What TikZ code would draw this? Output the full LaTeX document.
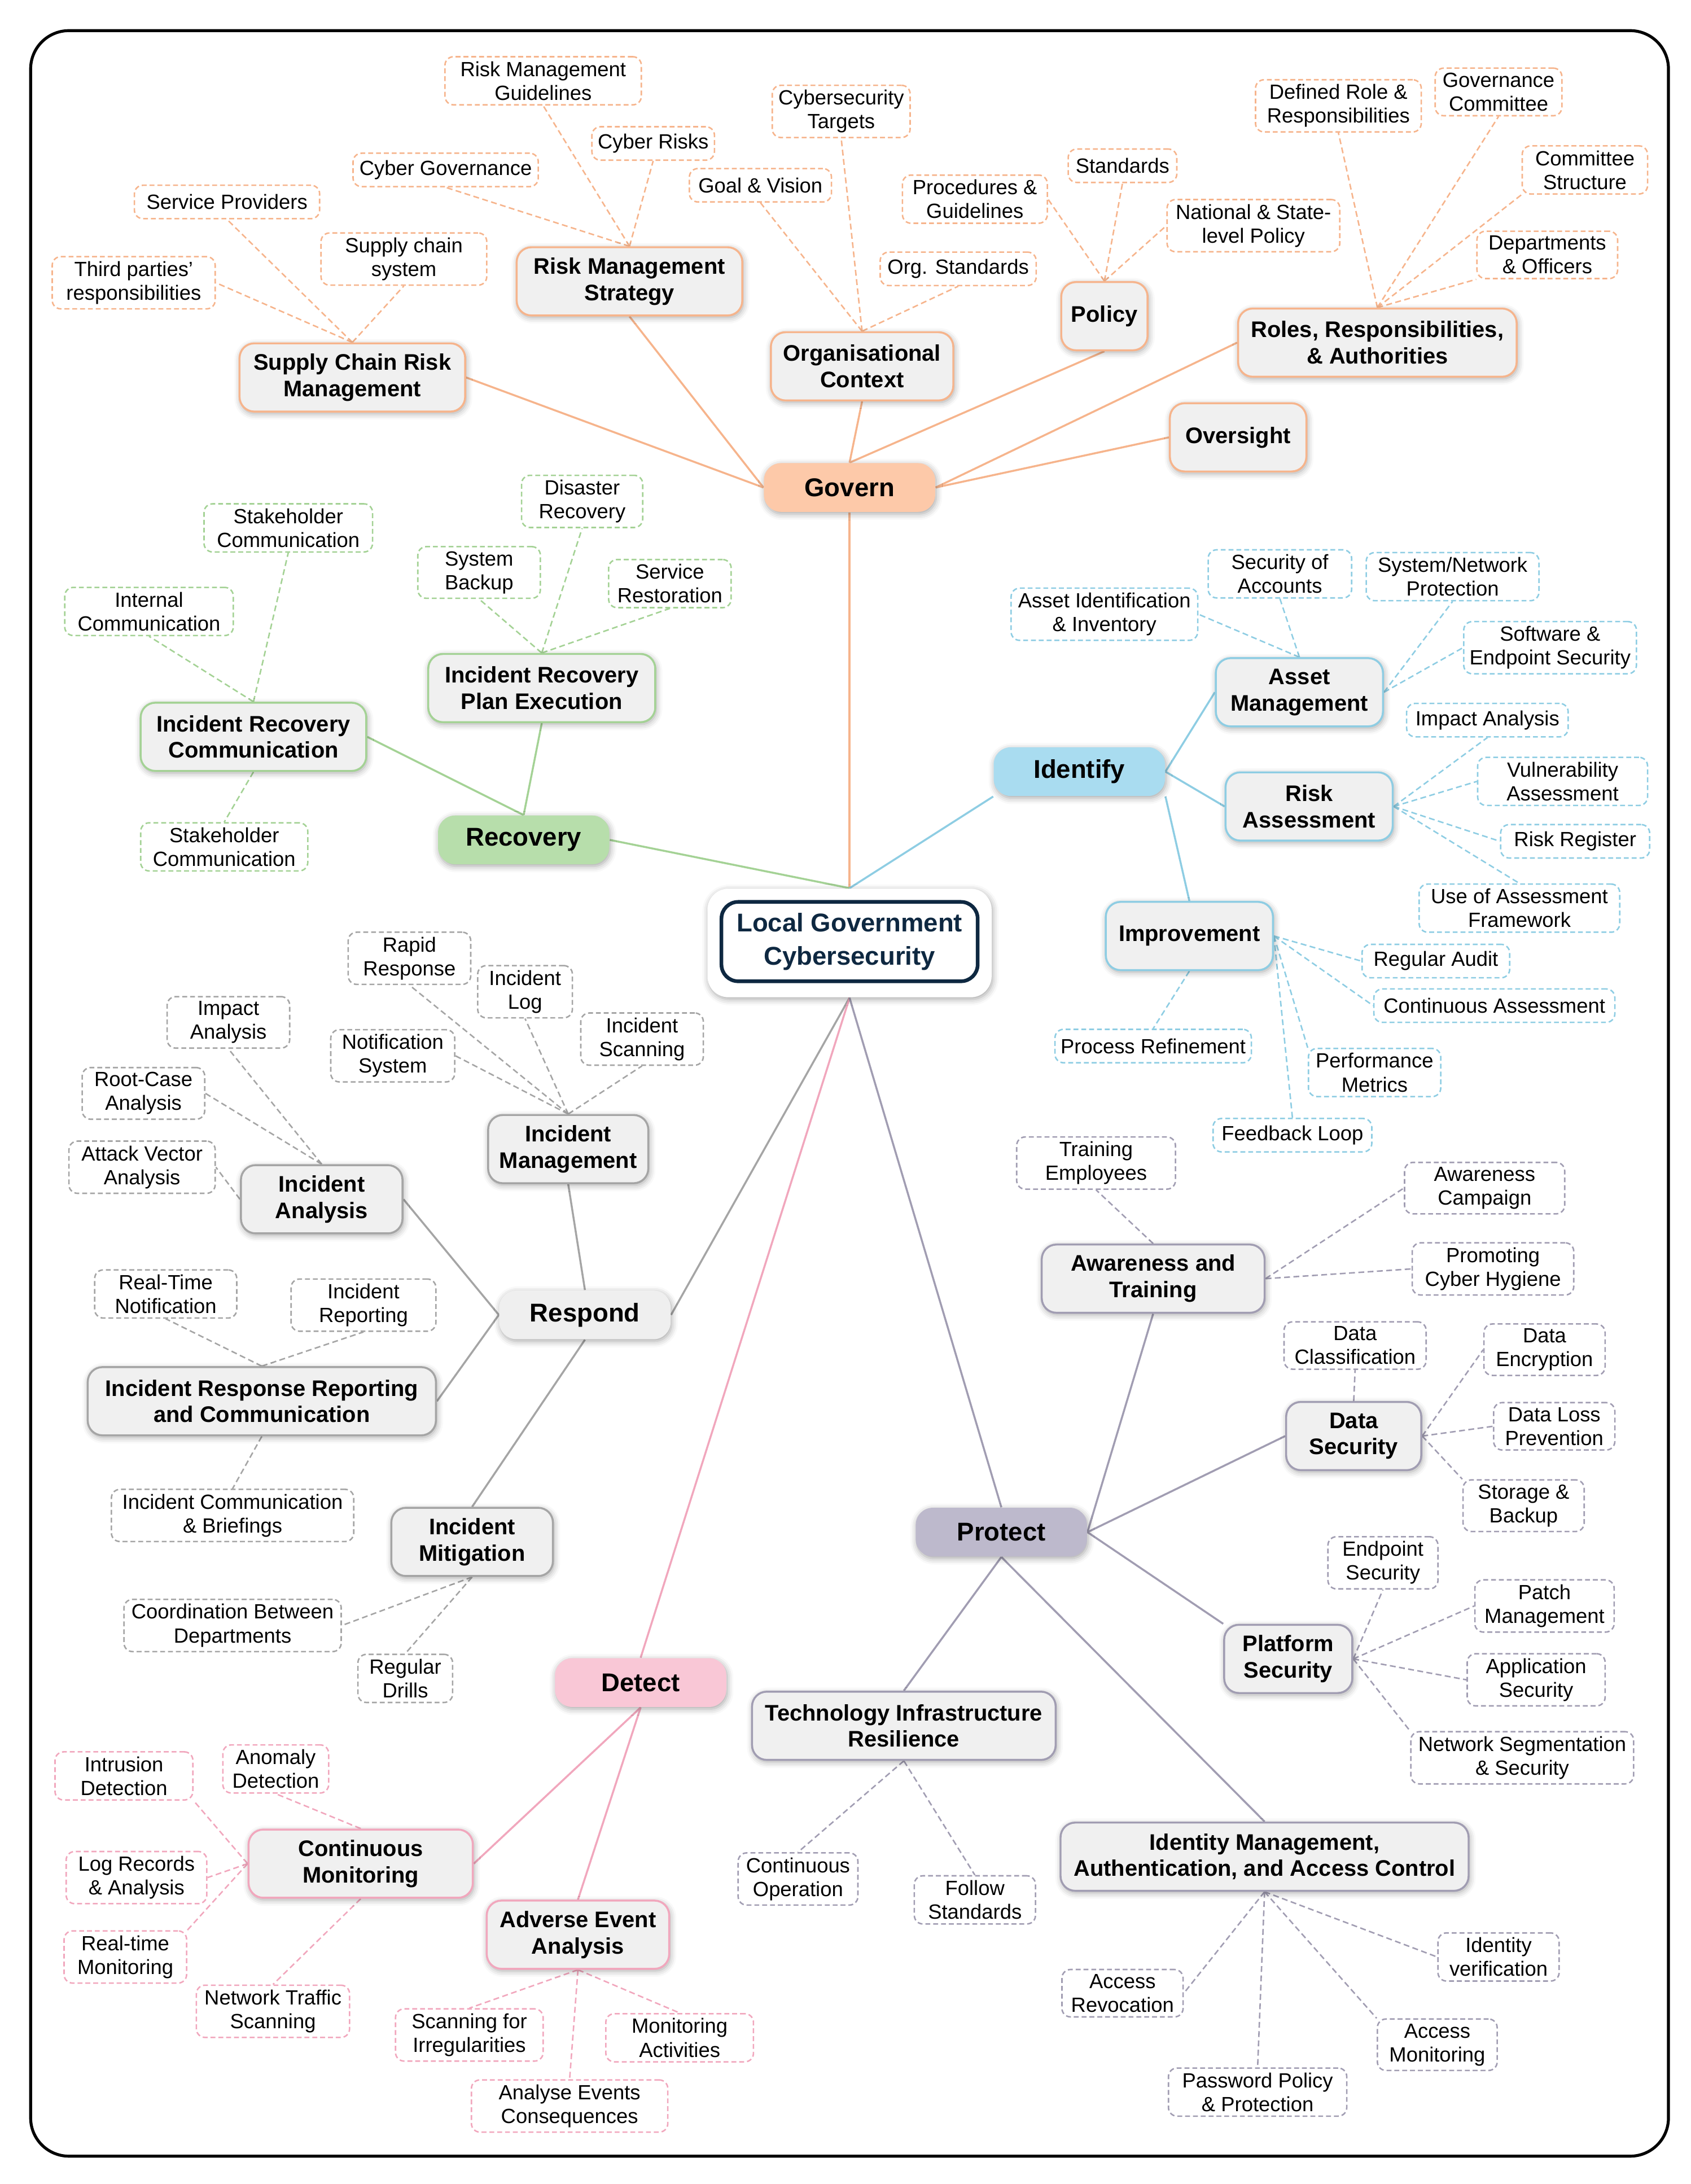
\documentclass[tikz,border=0pt]{standalone}
\usepackage{fontspec}
\setmainfont{Liberation Sans}
\usetikzlibrary{shadows.blur,backgrounds}

\definecolor{govline}{HTML}{F6B48C}
\definecolor{govfill}{HTML}{FDC9A9}
\definecolor{idline}{HTML}{8ECDE3}
\definecolor{idfill}{HTML}{A9DCF0}
\definecolor{recline}{HTML}{A4D295}
\definecolor{recfill}{HTML}{B7DEAB}
\definecolor{resline}{HTML}{A5A5A5}
\definecolor{resfill}{HTML}{EFEFEF}
\definecolor{proline}{HTML}{A19DB2}
\definecolor{profill}{HTML}{BDB9CC}
\definecolor{detline}{HTML}{F1A7BD}
\definecolor{detfill}{HTML}{F9C7D6}
\definecolor{subfill}{HTML}{F0F0F0}
\definecolor{navy}{HTML}{0E2841}

\tikzset{
  softshadow/.style={blur shadow={shadow xshift=0.4pt, shadow yshift=-0.8pt,
      shadow blur radius=2.5pt, shadow opacity=35}},
  wd/.style={minimum width=#1*0.02cm},
  pillar/.style={rounded corners=7pt, fill=#1, minimum width=2.46cm,
      minimum height=0.7cm, inner sep=2pt,
      font=\fontsize{10.5}{12}\selectfont\bfseries, softshadow},
  topic/.style={rounded corners=6pt, draw=#1, line width=0.8pt, fill=subfill,
      minimum height=0.98cm, inner xsep=4pt, align=center,
      font=\fontsize{9.2}{10.8}\selectfont\bfseries, softshadow},
  leaf/.style={rounded corners=3.5pt, draw=#1, line width=0.6pt,
      dash pattern=on 2pt off 1.2pt, fill=white, minimum height=0.48cm,
      inner xsep=2pt, inner ysep=1.9pt, align=center,
      font=\fontsize{8.4}{9.7}\selectfont},
  link/.style={draw=#1, line width=0.8pt},
  twig/.style={draw=#1, line width=0.6pt, dash pattern=on 2.4pt off 1.4pt},
}

\begin{document}
\begin{tikzpicture}[x=0.02cm, y=-0.02cm]

    \useasboundingbox (0,0) rectangle (1214,1568);
    \draw[line width=1.2pt, rounded corners=0.55cm] (22,22) rectangle (1198,1548);

    % Centre
    \node[fill=white, rounded corners=0.3cm, minimum width=4.08cm,
          minimum height=1.56cm, softshadow] (hubbg) at (610,677) {};
    \node[draw=navy, line width=1.5pt, rounded corners=0.24cm, minimum width=3.68cm,
          minimum height=1.14cm, align=center, text=navy,
          font=\fontsize{10.5}{13.5}\selectfont\bfseries] (hub) at (610,676)
          {Local Government\\Cybersecurity};

    % Main functions
    \node[pillar=govfill] (govern)   at (610,350)  {Govern};
    \node[pillar=idfill]  (identify) at (775,554)  {Identify};
    \node[pillar=recfill] (recovery) at (376,603)  {Recovery};
    \node[pillar=resfill] (respond)  at (420,944)  {Respond};
    \node[pillar=profill] (protect)  at (719,1100) {Protect};
    \node[pillar=detfill] (detect)   at (460,1208) {Detect};

    % Govern
    \node[topic=govline, wd=162] (scrm)      at (253,271) {Supply Chain Risk\\Management};
    \node[topic=govline, wd=162] (rms)       at (452,202) {Risk Management\\Strategy};
    \node[topic=govline, wd=131] (orgctx)    at (619,263) {Organisational\\Context};
    \node[topic=govline, wd=62]  (policy)    at (793,227) {Policy};
    \node[topic=govline, wd=200] (roles)     at (989,246) {Roles, Responsibilities,\\\& Authorities};
    \node[topic=govline, wd=98]  (oversight) at (889,314) {Oversight};

    \node[leaf=govline, wd=133] (svcprov)   at (163,145)  {Service Providers};
    \node[leaf=govline, wd=117] (thirdp)    at (96,203)   {Third parties'\\responsibilities};
    \node[leaf=govline, wd=119] (scsys)     at (290,186)  {Supply chain\\system};
    \node[leaf=govline, wd=141] (rmguide)   at (390,58)   {Risk Management\\Guidelines};
    \node[leaf=govline, wd=88]  (cyrisk)    at (469,103)  {Cyber Risks};
    \node[leaf=govline, wd=133] (cygov)     at (320,122)  {Cyber Governance};
    \node[leaf=govline, wd=99]  (cytarget)  at (604,80)   {Cybersecurity\\Targets};
    \node[leaf=govline, wd=102] (goalvis)   at (546,133)  {Goal \& Vision};
    \node[leaf=govline, wd=112] (orgstd)    at (688,193)  {Org. Standards};
    \node[leaf=govline, wd=104] (procguide) at (700,143)  {Procedures \&\\Guidelines};
    \node[leaf=govline, wd=78]  (stds)      at (806,119)  {Standards};
    \node[leaf=govline, wd=124] (natpol)    at (900,162)  {National \& State-\\level Policy};
    \node[leaf=govline, wd=119] (defrole)   at (961,76)   {Defined Role \&\\Responsibilities};
    \node[leaf=govline, wd=91]  (govcom)    at (1076,66)  {Governance\\Committee};
    \node[leaf=govline, wd=90]  (comstruct) at (1138,122) {Committee\\Structure};
    \node[leaf=govline, wd=101] (deptoff)   at (1111,183) {Departments\\\& Officers};

    % Identify
    \node[topic=idline, wd=120] (assetm)  at (933,497) {Asset\\Management};
    \node[topic=idline, wd=120] (riska)   at (940,579) {Risk\\Assessment};
    \node[topic=idline, wd=120] (improve) at (854,672) {Improvement};

    \node[leaf=idline, wd=134] (assetid)    at (793,441)  {Asset Identification\\\& Inventory};
    \node[leaf=idline, wd=103] (secacc)     at (919,412)  {Security of\\Accounts};
    \node[leaf=idline, wd=124] (sysnet)     at (1043,414) {System/Network\\Protection};
    \node[leaf=idline, wd=124] (softend)    at (1113,465) {Software \&\\Endpoint Security};
    \node[leaf=idline, wd=116] (impacta)    at (1068,517) {Impact Analysis};
    \node[leaf=idline, wd=122] (vulna)      at (1122,561) {Vulnerability\\Assessment};
    \node[leaf=idline, wd=107] (riskreg)    at (1131,604) {Risk Register};
    \node[leaf=idline, wd=144] (useaf)      at (1091,652) {Use of Assessment\\Framework};
    \node[leaf=idline, wd=106] (regaudit)   at (1031,690) {Regular Audit};
    \node[leaf=idline, wd=173] (contassess) at (1073,722) {Continuous Assessment};
    \node[leaf=idline, wd=95]  (perfmet)    at (987,770)  {Performance\\Metrics};
    \node[leaf=idline, wd=141] (procref)    at (828,751)  {Process Refinement};
    \node[leaf=idline, wd=114] (feedback)   at (928,815)  {Feedback Loop};

    % Recovery
    \node[topic=recline, wd=163] (irplan) at (389,494) {Incident Recovery\\Plan Execution};
    \node[topic=recline, wd=162] (ircomm) at (182,529) {Incident Recovery\\Communication};

    \node[leaf=recline, wd=87]  (disrec)  at (418,360) {Disaster\\Recovery};
    \node[leaf=recline, wd=88]  (sysbak)  at (344,411) {System\\Backup};
    \node[leaf=recline, wd=88]  (svcrest) at (481,419) {Service\\Restoration};
    \node[leaf=recline, wd=121] (stake1)  at (207,379) {Stakeholder\\Communication};
    \node[leaf=recline, wd=121] (intcomm) at (107,439) {Internal\\Communication};
    \node[leaf=recline, wd=120] (stake2)  at (161,608) {Stakeholder\\Communication};

    % Respond
    \node[topic=resline, wd=115] (incmgmt) at (408,825)  {Incident\\Management};
    \node[topic=resline, wd=116] (incana)  at (231,861)  {Incident\\Analysis};
    \node[topic=resline, wd=250] (increp)  at (188,1006) {Incident Response Reporting\\and Communication};
    \node[topic=resline, wd=116] (incmit)  at (339,1107) {Incident\\Mitigation};

    \node[leaf=resline, wd=88]  (rapid)     at (294,688)  {Rapid\\Response};
    \node[leaf=resline, wd=68]  (inclog)    at (377,712)  {Incident\\Log};
    \node[leaf=resline, wd=89]  (notif)     at (282,758)  {Notification\\System};
    \node[leaf=resline, wd=88]  (incscan)   at (461,746)  {Incident\\Scanning};
    \node[leaf=resline, wd=88]  (impana)    at (164,734)  {Impact\\Analysis};
    \node[leaf=resline, wd=88]  (rootc)     at (103,785)  {Root-Case\\Analysis};
    \node[leaf=resline, wd=105] (attackv)   at (102,838)  {Attack Vector\\Analysis};
    \node[leaf=resline, wd=102] (rtnotif)   at (119,929)  {Real-Time\\Notification};
    \node[leaf=resline, wd=104] (increport) at (261,937)  {Incident\\Reporting};
    \node[leaf=resline, wd=174] (incbrief)  at (167,1088) {Incident Communication\\\& Briefings};
    \node[leaf=resline, wd=156] (coord)     at (167,1167) {Coordination Between\\Departments};
    \node[leaf=resline, wd=68]  (drills)    at (291,1205) {Regular\\Drills};

    % Protect
    \node[topic=proline, wd=160] (awaretr) at (828,918)  {Awareness and\\Training};
    \node[topic=proline, wd=97]  (datasec) at (972,1031) {Data\\Security};
    \node[topic=proline, wd=92]  (platsec) at (925,1191) {Platform\\Security};
    \node[topic=proline, wd=218] (techres) at (649,1239) {Technology Infrastructure\\Resilience};
    \node[topic=proline, wd=293] (idmgmt)  at (908,1333) {Identity Management,\\Authentication, and Access Control};

    \node[leaf=proline, wd=114] (trainemp)  at (787,835)   {Training\\Employees};
    \node[leaf=proline, wd=115] (awarecamp) at (1066,853)  {Awareness\\Campaign};
    \node[leaf=proline, wd=116] (hygiene)   at (1072,911)  {Promoting\\Cyber Hygiene};
    \node[leaf=proline, wd=102] (dataclass) at (973,966)   {Data\\Classification};
    \node[leaf=proline, wd=87]  (dataenc)   at (1109,969)  {Data\\Encryption};
    \node[leaf=proline, wd=87]  (dlp)       at (1116,1024) {Data Loss\\Prevention};
    \node[leaf=proline, wd=87]  (storbak)   at (1094,1081) {Storage \&\\Backup};
    \node[leaf=proline, wd=79]  (endsec)    at (993,1122)  {Endpoint\\Security};
    \node[leaf=proline, wd=100] (patch)     at (1109,1153) {Patch\\Management};
    \node[leaf=proline, wd=99]  (appsec)    at (1103,1206) {Application\\Security};
    \node[leaf=proline, wd=160] (netseg)    at (1093,1262) {Network Segmentation\\\& Security};
    \node[leaf=proline, wd=86]  (contop)    at (573,1349)  {Continuous\\Operation};
    \node[leaf=proline, wd=87]  (followstd) at (700,1364)  {Follow\\Standards};
    \node[leaf=proline, wd=87]  (idverif)   at (1076,1405) {Identity\\verification};
    \node[leaf=proline, wd=87]  (accrev)    at (806,1431)  {Access\\Revocation};
    \node[leaf=proline, wd=86]  (accmon)    at (1032,1468) {Access\\Monitoring};
    \node[leaf=proline, wd=128] (passpol)   at (903,1502)  {Password Policy\\\& Protection};

    % Detect
    \node[topic=detline, wd=161] (contmon) at (259,1338) {Continuous\\Monitoring};
    \node[topic=detline, wd=131] (adverse) at (415,1389) {Adverse Event\\Analysis};

    \node[leaf=detline, wd=99]  (intrusion)  at (89,1275)  {Intrusion\\Detection};
    \node[leaf=detline, wd=76]  (anomaly)    at (198,1270) {Anomaly\\Detection};
    \node[leaf=detline, wd=101] (logrec)     at (98,1348)  {Log Records\\\& Analysis};
    \node[leaf=detline, wd=88]  (rtmon)      at (90,1405)  {Real-time\\Monitoring};
    \node[leaf=detline, wd=110] (nettraffic) at (196,1444) {Network Traffic\\Scanning};
    \node[leaf=detline, wd=106] (scanirr)    at (337,1461) {Scanning for\\Irregularities};
    \node[leaf=detline, wd=106] (monact)     at (488,1463) {Monitoring\\Activities};
    \node[leaf=detline, wd=141] (analyse)    at (409,1512) {Analyse Events\\Consequences};

    % Connectors
    \begin{scope}[on background layer]
        \draw[link=govline] (hubbg.north) -- (govern.south);
        \draw[link=recline] (hubbg.north) -- (recovery.east);
        \draw[link=idline]  (hubbg.north) -- (identify.south west);
        \draw[link=resline] (hubbg.south) -- (respond.east);
        \draw[link=detline] (hubbg.south) -- (detect.north);
        \draw[link=proline] (hubbg.south) -- (protect.north);

        \draw[link=govline] (govern.west)  -- (scrm.east);
        \draw[link=govline] (govern.west)  -- (rms.south);
        \draw[link=govline] (govern.north) -- (orgctx.south);
        \draw[link=govline] (govern.north) -- (policy.south);
        \draw[link=govline] (govern.east)  -- (roles.west);
        \draw[link=govline] (govern.east)  -- (oversight.west);
        \draw[twig=govline] (scrm.north) -- (svcprov.south);
        \draw[twig=govline] (scrm.north) -- (thirdp.east);
        \draw[twig=govline] (scrm.north) -- (scsys.south);
        \draw[twig=govline] (rms.north) -- (rmguide.south);
        \draw[twig=govline] (rms.north) -- (cyrisk.south);
        \draw[twig=govline] (rms.north) -- (cygov.south);
        \draw[twig=govline] (orgctx.north) -- (cytarget.south);
        \draw[twig=govline] (orgctx.north) -- (goalvis.south);
        \draw[twig=govline] (orgctx.north) -- (orgstd.south);
        \draw[twig=govline] (policy.north) -- (procguide.east);
        \draw[twig=govline] (policy.north) -- (stds.south);
        \draw[twig=govline] (policy.north) -- (natpol.west);
        \draw[twig=govline] (roles.north) -- (defrole.south);
        \draw[twig=govline] (roles.north) -- (govcom.south);
        \draw[twig=govline] (roles.north) -- (comstruct.south west);
        \draw[twig=govline] (roles.north) -- (deptoff.south west);

        \draw[link=idline] (identify.east) -- (assetm.west);
        \draw[link=idline] (identify.east) -- (riska.west);
        \draw[link=idline] (identify.south east) -- (improve.north);
        \draw[twig=idline] (assetm.north) -- (assetid.east);
        \draw[twig=idline] (assetm.north) -- (secacc.south);
        \draw[twig=idline] (assetm.east) -- (sysnet.south);
        \draw[twig=idline] (assetm.east) -- (softend.west);
        \draw[twig=idline] (riska.east) -- (impacta.south);
        \draw[twig=idline] (riska.east) -- (vulna.west);
        \draw[twig=idline] (riska.east) -- (riskreg.west);
        \draw[twig=idline] (riska.east) -- (useaf.north);
        \draw[twig=idline] (improve.east) -- (regaudit.west);
        \draw[twig=idline] (improve.east) -- (contassess.west);
        \draw[twig=idline] (improve.east) -- (perfmet.north west);
        \draw[twig=idline] (improve.east) -- (feedback.north);
        \draw[twig=idline] (improve.south) -- (procref.north);

        \draw[link=recline] (recovery.north) -- (irplan.south);
        \draw[link=recline] (recovery.north) -- (ircomm.east);
        \draw[twig=recline] (irplan.north) -- (disrec.south);
        \draw[twig=recline] (irplan.north) -- (sysbak.south);
        \draw[twig=recline] (irplan.north) -- (svcrest.south);
        \draw[twig=recline] (ircomm.north) -- (stake1.south);
        \draw[twig=recline] (ircomm.north) -- (intcomm.south);
        \draw[twig=recline] (ircomm.south) -- (stake2.north);

        \draw[link=resline] (respond.north) -- (incmgmt.south);
        \draw[link=resline] (respond.west)  -- (incana.east);
        \draw[link=resline] (respond.west)  -- (increp.east);
        \draw[link=resline] (respond.south) -- (incmit.north);
        \draw[twig=resline] (incmgmt.north) -- (rapid.south);
        \draw[twig=resline] (incmgmt.north) -- (inclog.south);
        \draw[twig=resline] (incmgmt.north) -- (notif.east);
        \draw[twig=resline] (incmgmt.north) -- (incscan.south);
        \draw[twig=resline] (incana.north) -- (impana.south);
        \draw[twig=resline] (incana.north) -- (rootc.east);
        \draw[twig=resline] (incana.west) -- (attackv.east);
        \draw[twig=resline] (increp.north) -- (rtnotif.south);
        \draw[twig=resline] (increp.north) -- (increport.south);
        \draw[twig=resline] (increp.south) -- (incbrief.north);
        \draw[twig=resline] (incmit.south) -- (coord.east);
        \draw[twig=resline] (incmit.south) -- (drills.north);

        \draw[link=proline] (protect.east)  -- (awaretr.south);
        \draw[link=proline] (protect.east)  -- (datasec.west);
        \draw[link=proline] (protect.east)  -- (platsec.north west);
        \draw[link=proline] (protect.south) -- (techres.north);
        \draw[link=proline] (protect.south) -- (idmgmt.north);
        \draw[twig=proline] (awaretr.north) -- (trainemp.south);
        \draw[twig=proline] (awaretr.east) -- (awarecamp.west);
        \draw[twig=proline] (awaretr.east) -- (hygiene.west);
        \draw[twig=proline] (datasec.north) -- (dataclass.south);
        \draw[twig=proline] (datasec.east) -- (dataenc.west);
        \draw[twig=proline] (datasec.east) -- (dlp.west);
        \draw[twig=proline] (datasec.east) -- (storbak.north west);
        \draw[twig=proline] (platsec.east) -- (endsec.south);
        \draw[twig=proline] (platsec.east) -- (patch.west);
        \draw[twig=proline] (platsec.east) -- (appsec.west);
        \draw[twig=proline] (platsec.east) -- (netseg.north west);
        \draw[twig=proline] (techres.south) -- (contop.north);
        \draw[twig=proline] (techres.south) -- (followstd.north);
        \draw[twig=proline] (idmgmt.south) -- (idverif.west);
        \draw[twig=proline] (idmgmt.south) -- (accrev.east);
        \draw[twig=proline] (idmgmt.south) -- (accmon.north west);
        \draw[twig=proline] (idmgmt.south) -- (passpol.north);

        \draw[link=detline] (detect.south) -- (contmon.east);
        \draw[link=detline] (detect.south) -- (adverse.north);
        \draw[twig=detline] (contmon.west) -- (intrusion.south east);
        \draw[twig=detline] (contmon.north) -- (anomaly.south);
        \draw[twig=detline] (contmon.west) -- (logrec.east);
        \draw[twig=detline] (contmon.west) -- (rtmon.north east);
        \draw[twig=detline] (contmon.south) -- (nettraffic.north);
        \draw[twig=detline] (adverse.south) -- (scanirr.north);
        \draw[twig=detline] (adverse.south) -- (monact.north);
        \draw[twig=detline] (adverse.south) -- (analyse.north);
    \end{scope}

\end{tikzpicture}
\end{document}
